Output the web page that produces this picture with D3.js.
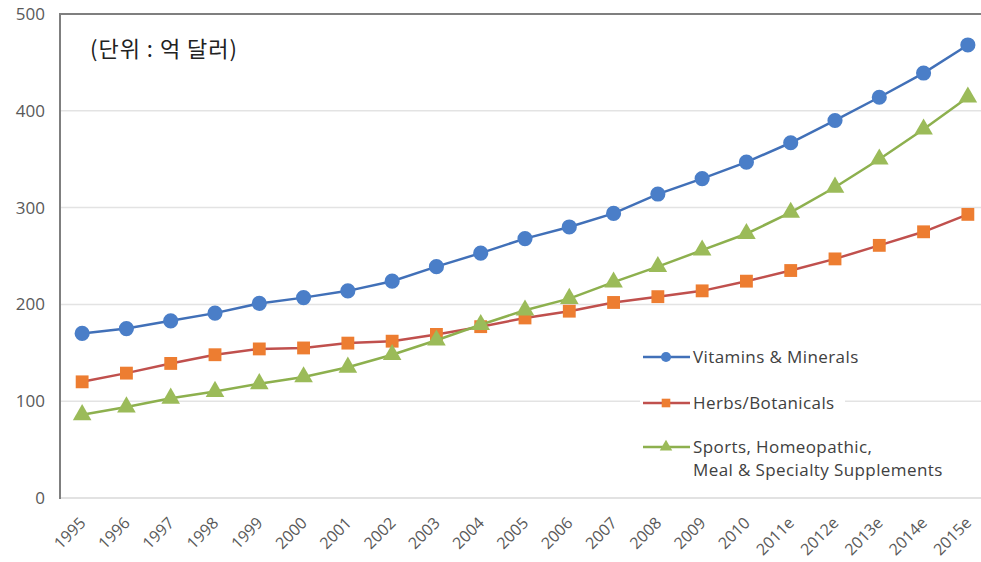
<!DOCTYPE html>
<html>
<head>
<meta charset="utf-8">
<script src="https://cdn.jsdelivr.net/npm/d3@7"></script>
<style>
body { margin: 0; background: #fff; }
text { font-family: "Open Sans", "Noto Sans CJK KR", sans-serif; }
</style>
</head>
<body>
<script>
var years = ["1995","1996","1997","1998","1999","2000","2001","2002","2003","2004","2005","2006","2007","2008","2009","2010","2011e","2012e","2013e","2014e","2015e"];
var vitamins = [170,175,183,191,201,207,214,224,239,253,268,280,294,314,330,347,367,390,414,439,468];
var herbs = [120,129,139,148,154,155,160,162,169,177,186,193,202,208,214,224,235,247,261,275,293];
var sports = [86,94,103,110,118,125,135,148,163,179,194,206,223,239,256,273,295,321,350,381,414];
var yTicks = [0,100,200,300,400,500];

var svgWidth = 981, svgHeight = 562;

var svg = d3.select("body").append("svg").attr("width", svgWidth).attr("height", svgHeight);

var x = d3.scalePoint().domain(years).range([60, 990]).padding(0.5);
var y = d3.scaleLinear().domain([0, 500]).range([498, 14]);

// gridlines
svg.append("g").selectAll("line").data(yTicks.filter(d => d > 0 && d < 500)).enter()
  .append("line")
  .attr("x1", 60).attr("x2", svgWidth)
  .attr("y1", d => y(d)).attr("y2", d => y(d))
  .attr("stroke", "#e3e3e3").attr("stroke-width", 1.5);

// y axis labels
var yAxis = d3.axisLeft(y).tickValues(yTicks).tickSize(0).tickPadding(15);
var gy = svg.append("g").attr("transform", "translate(60,0)").call(yAxis);
gy.select(".domain").remove();
gy.selectAll("text").attr("fill", "#595959").style("font-size", "17px")
  .style("font-family", "'Open Sans', sans-serif");

// x axis
var xAxis = d3.axisBottom(x).tickSize(0);
var gx = svg.append("g").attr("transform", "translate(0,498)").call(xAxis);
gx.select(".domain").remove();
gx.selectAll("text")
  .attr("fill", "#595959").style("font-size", "16px")
  .style("font-family", "'Open Sans', sans-serif")
  .attr("text-anchor", "end")
  .attr("x", 0).attr("y", 0).attr("dy", 0)
  .attr("transform", "translate(4,26) rotate(-45)");

// frame
svg.append("line").attr("x1", 60).attr("x2", svgWidth).attr("y1", 498).attr("y2", 498)
  .attr("stroke", "#d9d9d9").attr("stroke-width", 1.5);
svg.append("line").attr("x1", 59).attr("x2", svgWidth).attr("y1", 14).attr("y2", 14)
  .attr("stroke", "#7f7f7f").attr("stroke-width", 2);
svg.append("line").attr("x1", 60).attr("x2", 60).attr("y1", 13).attr("y2", 499)
  .attr("stroke", "#7f7f7f").attr("stroke-width", 2);

// legend background
svg.append("rect").attr("x", 640).attr("y", 340).attr("width", 205).attr("height", 145).attr("fill", "#fff");

var series = [
  {name: "Vitamins & Minerals", values: vitamins, line: "#4170b8", fill: "#4a7ec8", shape: d3.symbolCircle, size: 180},
  {name: "Herbs/Botanicals", values: herbs, line: "#c0504d", fill: "#ed7d31", shape: d3.symbolSquare, size: 165},
  {name: "Sports, Homeopathic,", name2: "Meal & Specialty Supplements", values: sports, line: "#8db04e", fill: "#9bbb59", shape: d3.symbolTriangle, size: 150}
];

var line = d3.line().x((d, i) => x(years[i])).y(d => y(d));

series.forEach(function(s) {
  svg.append("path").datum(s.values)
    .attr("d", line).attr("fill", "none")
    .attr("stroke", s.line).attr("stroke-width", 2.5);
  svg.append("g").selectAll("path").data(s.values).enter()
    .append("path")
    .attr("d", d3.symbol().type(s.shape).size(s.size))
    .attr("transform", (d, i) => `translate(${x(years[i])},${y(d)})`)
    .attr("fill", s.fill);
});

// legend
var legendY = [357, 403, 447];
series.forEach(function(s, i) {
  var g = svg.append("g").attr("transform", `translate(643,${legendY[i]})`);
  g.append("line").attr("x1", 0).attr("x2", 47).attr("stroke", s.line).attr("stroke-width", 2.5);
  g.append("path").attr("d", d3.symbol().type(s.shape).size(s.size * 0.45))
    .attr("transform", "translate(23,0)").attr("fill", s.fill);
  g.append("text").attr("x", 50).attr("y", 6).attr("fill", "#404040").style("font-size", "17px")
    .style("letter-spacing", "0.4px").text(s.name);
  if (s.name2) {
    g.append("text").attr("x", 50).attr("y", 29).attr("fill", "#404040").style("font-size", "17px")
      .style("letter-spacing", "0.4px").text(s.name2);
  }
});

// unit note
svg.append("text").attr("x", 90).attr("y", 57).attr("fill", "#222")
  .style("font-size", "22px").style("font-family", "'Noto Sans CJK KR', sans-serif")
  .style("letter-spacing", "1px")
  .text("(단위 : 억 달러)");
</script>
</body>
</html>
